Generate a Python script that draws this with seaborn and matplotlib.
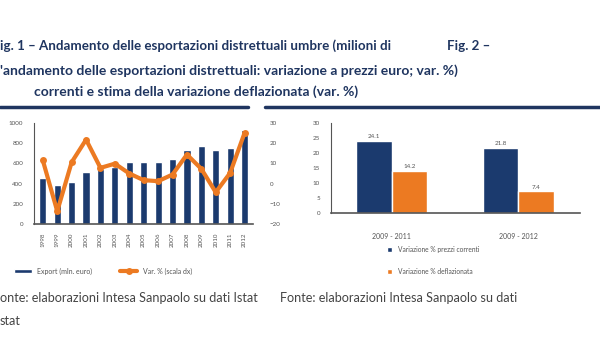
import numpy as np
import pandas as pd
import matplotlib
matplotlib.use("Agg")
import matplotlib.pyplot as plt
import seaborn as sns

sns.set_style("white")
plt.rcParams['font.family'] = ['Lato', 'DejaVu Sans']

BLU = "#1b3a6e"
ARANCIO = "#ec7a22"
TITOLO = "#1f3560"
GRIGIO = "#555555"

# Fig. 1 - export distrettuali umbre
anni = [str(a) for a in range(1998, 2013)]
export_mln = [452, 387, 420, 515, 541, 567, 616, 616, 616, 643, 731, 770, 731, 757, 934]
var_pct = [11.5, -13.7, 10.6, 21.8, 7.8, 9.9, 5.0, 1.7, 1.2, 4.5, 14.4, 7.3, -4.3, 5.3, 25.1]

# Fig. 2 - variazione prezzi correnti vs deflazionata
periodi = ["2009 - 2011", "2009 - 2012"]
var_correnti = [24.1, 21.8]
var_deflaz = [14.2, 7.4]
serie2 = ["Variazione % prezzi correnti", "Variazione % deflazionata"]

fig = plt.figure(figsize=(6, 3.6), dpi=100)

# titoli
fig.text(0.0, 0.872, "ig. 1 – Andamento delle esportazioni distrettuali umbre (milioni di",
         fontsize=9.6, fontweight='bold', color=TITOLO, va='center')
fig.text(0.745, 0.872, "Fig. 2 –", fontsize=9.6, fontweight='bold', color=TITOLO, va='center')
fig.text(0.0, 0.803, "'andamento delle esportazioni distrettuali: variazione a prezzi euro; var. %)",
         fontsize=10.0, fontweight='bold', color=TITOLO, va='center')
fig.text(0.057, 0.745, "correnti e stima della variazione deflazionata (var. %)",
         fontsize=10.0, fontweight='bold', color=TITOLO, va='center')
fig.add_artist(plt.Line2D([0.0, 0.413], [0.703, 0.703], color=TITOLO, lw=2.5))
fig.add_artist(plt.Line2D([0.442, 1.0], [0.703, 0.703], color=TITOLO, lw=2.5))

# Fig. 1
ax1 = fig.add_axes([0.057, 0.378, 0.365, 0.28])
df1 = pd.DataFrame({"anno": anni, "export": export_mln, "var": var_pct})
sns.barplot(data=df1, x="anno", y="export", color=BLU, width=0.5, ax=ax1,
            saturation=1, label="Export (mln. euro)")
ax1.set_ylim(0, 1000)
ax1.set_yticks(range(0, 1001, 200))
ax1.set_xlim(-0.6, 14.6)
ax1.set_xlabel("")
ax1.set_ylabel("")
ax1.tick_params(axis='y', labelsize=4.5, colors=GRIGIO, length=0, pad=8)
ax1.tick_params(axis='x', labelsize=4.5, colors=GRIGIO, length=0, rotation=90, pad=6)
for s in ["top", "right"]:
    ax1.spines[s].set_visible(False)
ax1.spines["left"].set_color("#555555")
ax1.spines["bottom"].set_color("#555555")
ax1.spines["left"].set_linewidth(0.8)
ax1.spines["bottom"].set_linewidth(1.2)

ax2 = ax1.twinx()
sns.lineplot(x=np.arange(len(anni)), y=var_pct, ax=ax2, color=ARANCIO, lw=3,
             marker='o', markersize=5, markeredgewidth=0, label="Var. % (scala dx)")
ax2.set_ylim(-20, 30)
ax2.set_yticks(range(-20, 31, 10))
ax2.tick_params(axis='y', labelsize=4.5, colors=GRIGIO, length=0, pad=12)
for s in ["top", "right", "left", "bottom"]:
    ax2.spines[s].set_visible(False)
ax2.get_legend().remove()

h1, l1 = ax1.get_legend_handles_labels()
h2, l2 = ax2.get_legend_handles_labels()
ax1.legend(h1 + h2, l1 + l2, loc='upper left', bbox_to_anchor=(-0.12, -0.37), ncol=2,
           frameon=False, fontsize=5, labelcolor=GRIGIO, columnspacing=4,
           handlelength=2.5, handleheight=0.6)

# Fig. 2
ax3 = fig.add_axes([0.552, 0.408, 0.415, 0.25])
df2 = pd.DataFrame({
    "periodo": periodi * 2,
    "serie": [serie2[0]] * 2 + [serie2[1]] * 2,
    "valore": var_correnti + var_deflaz,
})
sns.barplot(data=df2, x="periodo", y="valore", hue="serie", palette=[BLU, ARANCIO],
            width=0.56, saturation=1, ax=ax3)
for c in ax3.containers:
    ax3.bar_label(c, fmt="%.1f", fontsize=4.5, color=GRIGIO, padding=1)
ax3.set_ylim(0, 30)
ax3.set_yticks(range(0, 31, 5))
ax3.set_xlim(-0.48, 1.49)
ax3.set_xlabel("")
ax3.set_ylabel("")
ax3.tick_params(axis='y', labelsize=4.5, colors=GRIGIO, length=0, pad=8)
ax3.tick_params(axis='x', labelsize=5, colors=GRIGIO, length=0, pad=14)
for s in ["top", "right"]:
    ax3.spines[s].set_visible(False)
ax3.spines["left"].set_color("#555555")
ax3.spines["bottom"].set_color("#555555")
ax3.spines["left"].set_linewidth(0.8)
ax3.spines["bottom"].set_linewidth(1.2)
ax3.legend(loc='upper left', bbox_to_anchor=(0.2, -0.3), frameon=False, fontsize=4.8,
           labelcolor=GRIGIO, handlelength=0.8, handleheight=0.8, labelspacing=2.2)

# fonti
fig.text(0.0, 0.172, "onte: elaborazioni Intesa Sanpaolo su dati Istat", fontsize=9.1,
         color="#444444", va='center')
fig.text(0.0, 0.108, "stat", fontsize=9.1, color="#444444", va='center')
fig.text(0.467, 0.172, "Fonte: elaborazioni Intesa Sanpaolo su dati", fontsize=9.1,
         color="#444444", va='center')

fig.savefig("out.png", dpi=100)
